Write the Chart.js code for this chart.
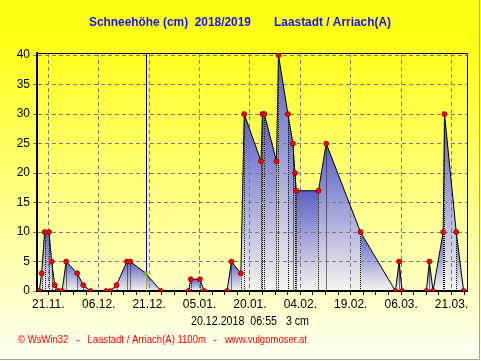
<!DOCTYPE html>
<html><head><meta charset="utf-8">
<script src="https://cdn.jsdelivr.net/npm/chart.js@4/dist/chart.umd.min.js"></script>
<style>html,body{margin:0;padding:0;background:#fff}canvas{display:block}</style>
</head><body>
<canvas id="c" width="481" height="361"></canvas>
<script>
// ---- data ----
const titleText = "Schneehöhe (cm)  2018/2019       Laastadt / Arriach(A)";
const tickDays = [0, 15, 30, 45, 60, 75, 90, 105, 120];   // days after 21.11.2018
const tickLabels = ["21.11.", "06.12.", "21.12.", "05.01.", "20.01.", "04.02.", "19.02.", "06.03.", "21.03."];
const yTicks = [0, 5, 10, 15, 20, 25, 30, 35, 40];
const days = [-2.7, -2.0, -1.1, 0.2, 1.0, 1.9, 3.1, 4.1, 5.3, 8.6, 10.4, 12.6, 17.2, 18.4, 20.3, 23.4, 24.4,
  29.0, 33.5, 41.7, 42.4, 45.1, 46.4, 53.2, 54.5, 57.3, 58.3, 63.3, 63.7, 64.3, 67.9, 68.5, 71.3, 72.8, 73.4, 73.8,
  80.4, 82.7, 92.9, 103.3, 104.4, 105.3, 112.5, 113.4, 114.5, 117.5, 117.9, 121.4, 123.6];
const snow = [0, 3, 10, 10, 5, 1, 0, 0, 5, 3, 1, 0, 0, 0, 1, 5, 5,
  3, 0, 0, 2, 2, 0, 0, 5, 3, 30, 22, 30, 30, 22, 40, 30, 25, 20, 17,
  17, 25, 10, 0, 5, 0, 0, 5, 0, 10, 30, 10, 0];
const cursorIndex = 17;
const cursorText = "20.12.2018  06:55   3 cm";
const footerText = "\u00A9 WsWin32   -   Laastadt / Arriach(A) 1100m   -   www.vulgomoser.at";

// ---- chart ----
const minorTicks = [];
for (let k = 0; k * 3.75 <= 124.6; k++) minorTicks.push(k * 3.75);

function fitText(ctx, text, x0, x1, y) {
  const w = ctx.measureText(text).width;
  const s = (x1 - x0) / w;
  ctx.save();
  ctx.translate(x0, y);
  ctx.scale(s, 1);
  ctx.textAlign = 'left';
  ctx.fillText(text, 0, 0);
  ctx.restore();
}

const decor = {
  id: 'decor',
  beforeDraw(chart) {
    const ctx = chart.ctx, W = chart.width, H = chart.height;
    const a = chart.chartArea;
    ctx.save();
    const bg = ctx.createLinearGradient(0, 35, 0, H);
    bg.addColorStop(0, '#ffff14');
    bg.addColorStop(1, '#fffff6');
    ctx.fillStyle = bg;
    ctx.fillRect(0, 0, W, H);
    ctx.strokeStyle = '#a0a0a0'; ctx.lineWidth = 1;
    ctx.beginPath(); ctx.moveTo(479.5, 0); ctx.lineTo(479.5, 359.5); ctx.lineTo(0, 359.5); ctx.stroke();
    const pts = chart.getDatasetMeta(0).data;
    const base = chart.scales.y.getPixelForValue(0);
    ctx.beginPath(); ctx.rect(a.left, a.top, a.right - a.left, a.bottom - a.top); ctx.clip();
    for (let i = 0; i < pts.length - 1; i++) {
      const p0 = pts[i], p1 = pts[i + 1];
      if (snow[i] === 0 && snow[i + 1] === 0) continue;
      const top = Math.min(p0.y, p1.y);
      const g = ctx.createLinearGradient(0, top, 0, base);
      g.addColorStop(0, '#5a5ec8');
      g.addColorStop(1, '#f6f6ee');
      ctx.fillStyle = g;
      ctx.beginPath();
      ctx.moveTo(p0.x, base); ctx.lineTo(p0.x, p0.y); ctx.lineTo(p1.x, p1.y); ctx.lineTo(p1.x, base);
      ctx.closePath(); ctx.fill();
    }
    ctx.strokeStyle = '#000'; ctx.lineWidth = 1; ctx.setLineDash([1, 1]);
    for (let i = 0; i < pts.length; i++) {
      if (snow[i] === 0 || i === cursorIndex) continue;
      const x = Math.round(pts[i].x) + 0.5;
      ctx.beginPath(); ctx.moveTo(x, pts[i].y); ctx.lineTo(x, base); ctx.stroke();
    }
    ctx.restore();
  },
  beforeDatasetsDraw(chart) {
    const ctx = chart.ctx, a = chart.chartArea;
    const p = chart.getDatasetMeta(0).data[cursorIndex];
    const x = Math.round(p.x) + 0.5;
    ctx.save();
    ctx.lineWidth = 1;
    ctx.strokeStyle = '#0000d0';
    ctx.beginPath(); ctx.moveTo(x, a.top); ctx.lineTo(x, p.y); ctx.stroke();
    ctx.strokeStyle = '#a8a850';
    ctx.beginPath(); ctx.moveTo(x, p.y); ctx.lineTo(x, a.bottom); ctx.stroke();
    ctx.strokeStyle = '#000';
    ctx.beginPath(); ctx.moveTo(a.left, a.top + 0.5); ctx.lineTo(a.right + 0.5, a.top + 0.5); ctx.lineTo(a.right + 0.5, a.bottom); ctx.stroke();
    ctx.restore();
  },
  afterDraw(chart) {
    const ctx = chart.ctx;
    ctx.save();
    ctx.textBaseline = 'middle';
    ctx.fillStyle = '#1414f0';
    ctx.font = 'bold 12px "Liberation Sans", Arial, sans-serif';
    fitText(ctx, titleText, 89, 391, 23);
    ctx.fillStyle = '#000';
    ctx.font = '12px "Liberation Sans", Arial, sans-serif';
    fitText(ctx, cursorText, 191, 309, 322);
    ctx.fillStyle = '#ff0000';
    ctx.font = '11px "Liberation Sans", Arial, sans-serif';
    fitText(ctx, footerText, 18, 307, 340);
    ctx.restore();
  }
};

new Chart(document.getElementById('c'), {
  type: 'line',
  data: {
    datasets: [{
      data: days.map((d, i) => ({ x: d, y: snow[i] })),
      borderColor: '#000',
      borderWidth: 1,
      fill: false,
      tension: 0,
      pointStyle: c => c.dataIndex === cursorIndex ? 'rect' : 'circle',
      pointRadius: c => c.dataIndex === cursorIndex ? 2.2 : 2.5,
      pointBackgroundColor: c => c.dataIndex === cursorIndex ? '#40e040' : '#ff0000',
      pointBorderColor: c => c.dataIndex === cursorIndex ? '#808000' : '#700000',
      pointBorderWidth: 0.7
    }]
  },
  options: {
    responsive: false,
    animation: false,
    events: [],
    layout: { padding: { left: 0, top: 53, right: 14, bottom: 40 } },
    plugins: { legend: { display: false }, tooltip: { enabled: false }, title: { display: false } },
    scales: {
      x: {
        type: 'linear',
        min: -3.37,
        max: 124.6,
        afterBuildTicks: s => { s.ticks = minorTicks.map(v => ({ value: v })); },
        afterFit: s => { s.height = 30; },
        ticks: {
          autoSkip: false, maxRotation: 0, padding: 2, color: '#000',
          font: { family: '"Liberation Sans", Arial, sans-serif', size: 12 },
          callback: v => { const i = tickDays.indexOf(v); return i >= 0 ? tickLabels[i] : ''; }
        },
        grid: {
          color: c => (c.tick && tickDays.indexOf(c.tick.value) >= 0) ? '#7a7a88' : 'rgba(0,0,0,0)',
          tickColor: '#000', tickLength: 4, lineWidth: 1
        },
        border: { display: true, color: '#000', width: 2, dash: [4, 3] }
      },
      y: {
        min: 0,
        max: 40.35,
        afterBuildTicks: s => { s.ticks = yTicks.map(v => ({ value: v })); },
        afterFit: s => { s.width = 37; },
        ticks: {
          padding: 3, color: '#000',
          font: { family: '"Liberation Sans", Arial, sans-serif', size: 12 }
        },
        grid: { color: '#7a7a88', tickColor: '#7a7a88', tickLength: 4, lineWidth: 1 },
        border: { display: true, color: '#000', width: 2, dash: [4, 3] }
      }
    }
  },
  plugins: [decor]
});
</script>
</body></html>
